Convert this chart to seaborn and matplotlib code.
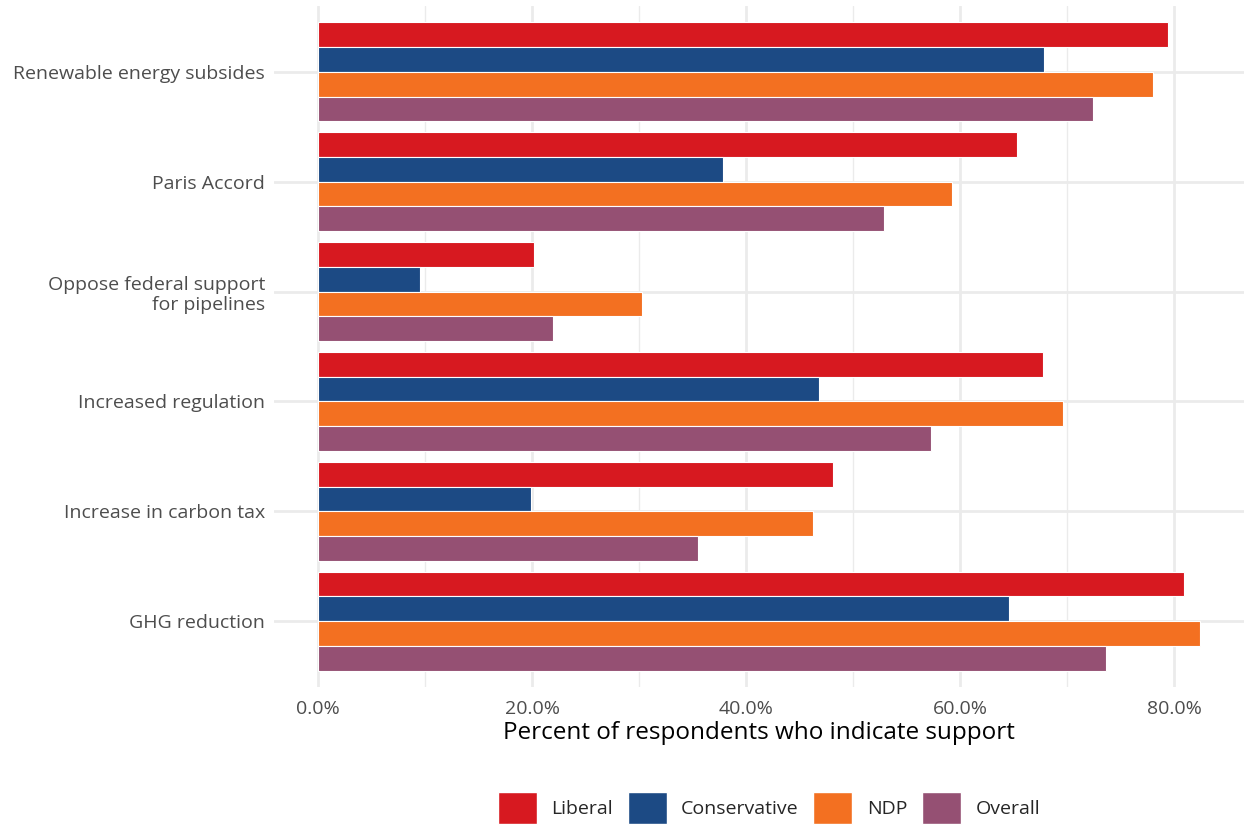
import pandas as pd
import matplotlib
matplotlib.use("Agg")
import matplotlib.pyplot as plt
from matplotlib.ticker import FuncFormatter, MultipleLocator
import seaborn as sns

# categories top to bottom, values in percent
policies = ["Renewable energy subsides", "Paris Accord",
            "Oppose federal support\nfor pipelines", "Increased regulation",
            "Increase in carbon tax", "GHG reduction"]
groups = ["Liberal", "Conservative", "NDP", "Overall"]

liberal      = [79.4, 65.3, 20.2, 67.7, 48.1, 80.9]
conservative = [67.8, 37.8, 9.5, 46.8, 19.9, 64.5]
ndp          = [78.0, 59.2, 30.3, 69.6, 46.2, 82.4]
overall      = [72.4, 52.9, 21.9, 57.3, 35.5, 73.6]

palette = {"Liberal": "#D71920", "Conservative": "#1C4A84",
           "NDP": "#F37021", "Overall": "#955073"}

sns.set_style("white")
plt.rcParams["font.family"] = ["Open Sans", "DejaVu Sans"]

rows = []
for g, vals in zip(groups, [liberal, conservative, ndp, overall]):
    for p, v in zip(policies, vals):
        rows.append({"policy": p, "group": g, "value": v})
df = pd.DataFrame(rows)

fig = plt.figure(figsize=(12.44, 8.25), dpi=100)
ax = fig.add_axes([274 / 1244, 1 - 687 / 825, 970 / 1244, 681 / 825])

sns.barplot(data=df, x="value", y="policy", hue="group", order=policies,
            hue_order=groups, palette=palette, width=0.9, ax=ax,
            edgecolor="white", linewidth=0.8, saturation=1, zorder=3)

ax.set_xlim(-4.12, 86.5)
ax.set_ylim(5.6, -0.6)
ax.xaxis.set_major_locator(MultipleLocator(20))
ax.xaxis.set_minor_locator(MultipleLocator(10))
ax.xaxis.set_major_formatter(FuncFormatter(lambda v, _: f"{v:.1f}%"))
ax.grid(True, which="major", axis="both", color="#EBEBEB", linewidth=2, zorder=0)
ax.grid(True, which="minor", axis="x", color="#EBEBEB", linewidth=1, zorder=0)
ax.set_axisbelow(True)
for s in ax.spines.values():
    s.set_visible(False)

ax.tick_params(axis="both", which="major", length=3.5, width=2, color="#222222",
               labelcolor="#4D4D4D", labelsize=14, direction="out", pad=3)
ax.tick_params(axis="x", which="minor", length=0)
ax.tick_params(axis="x", pad=6)
ax.set_ylabel("")
ax.set_xlabel("Percent of respondents who indicate support", fontsize=17.5,
              color="black", labelpad=2)

ax.get_legend().remove()
handles = [plt.Rectangle((0, 0), 1, 1, facecolor=palette[g], edgecolor="white")
           for g in groups]
fig.legend(handles, groups, loc="center", bbox_to_anchor=(769 / 1244, 1 - 808 / 825),
           ncol=4, frameon=False, fontsize=14, handlelength=2.0, handleheight=2.2,
           handletextpad=0.75, columnspacing=0.75, borderpad=0)

fig.savefig("out.png", dpi=100)
